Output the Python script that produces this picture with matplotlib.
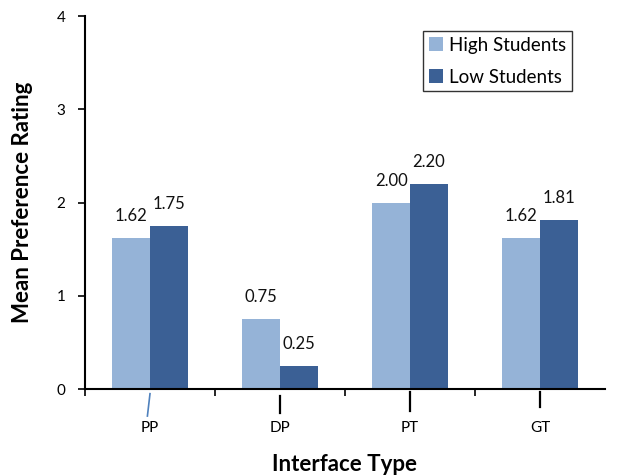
import matplotlib
matplotlib.use("Agg")
import matplotlib.pyplot as plt
import numpy as np

plt.rcParams['font.family'] = ['Lato', 'DejaVu Sans']

categories = ["PP", "DP", "PT", "GT"]
high_students = [1.62, 0.75, 2.00, 1.62]
low_students = [1.75, 0.25, 2.20, 1.81]
high_labels = ["1.62", "0.75", "2.00", "1.62"]
low_labels = ["1.75", "0.25", "2.20", "1.81"]
y_ticks = [0, 1, 2, 3, 4]

color_high = "#95B3D7"
color_low = "#3B6095"

fig = plt.figure(figsize=(6.25, 4.75), dpi=100)
ax = fig.add_axes([0.136, 0.181, 0.832, 0.785])

x = np.arange(len(categories))
w = 0.29
ax.bar(x - w / 2, high_students, width=w, color=color_high, label="High Students")
ax.bar(x + w / 2, low_students, width=w, color=color_low, label="Low Students")

for xi, v, t in zip(x - w / 2, high_students, high_labels):
    ax.annotate(t, (xi, v), xytext=(0, 22), textcoords="offset pixels",
                ha="center", va="center", fontsize=12, color="#111111")
for xi, v, t in zip(x + w / 2, low_students, low_labels):
    ax.annotate(t, (xi, v), xytext=(0, 22), textcoords="offset pixels",
                ha="center", va="center", fontsize=12, color="#111111")

ax.set_xlim(-0.5, 3.5)
ax.set_ylim(0, 4)
ax.set_yticks(y_ticks)
ax.set_xticks(x)
ax.set_xticklabels(categories)
ax.set_xticks(np.arange(-0.5, 3.0, 1.0), minor=True)
ax.tick_params(axis="x", which="major", length=0, pad=23, labelsize=11)
ax.tick_params(axis="x", which="minor", length=5, width=1.2, direction="out")
ax.tick_params(axis="y", length=5, width=1.2, direction="out", labelsize=11, pad=9)

for side in ("top", "right"):
    ax.spines[side].set_visible(False)
for side in ("left", "bottom"):
    ax.spines[side].set_linewidth(1.5)

ax.set_ylabel("Mean Preference Rating", fontsize=16, fontweight="bold", labelpad=17)
ax.set_xlabel("Interface Type", fontsize=16, fontweight="bold", labelpad=14)

# short marker strokes below the category labels
ax.plot([0.0, -0.02], [-0.05, -0.29], color="#4F81BD", lw=1.2, clip_on=False)
ax.plot([1.0, 1.0], [-0.07, -0.26], color="black", lw=1.6, clip_on=False)
ax.plot([2.0, 2.0], [-0.03, -0.24], color="black", lw=1.6, clip_on=False)
ax.plot([3.0, 3.0], [-0.03, -0.19], color="black", lw=1.6, clip_on=False)

leg = ax.legend(loc="upper right", bbox_to_anchor=(0.937, 0.96), fontsize=13.5,
                frameon=True, fancybox=False, edgecolor="black", handlelength=0.75,
                handleheight=0.75, handletextpad=0.35, labelspacing=0.8,
                borderpad=0.3, borderaxespad=0.0)
leg.get_frame().set_linewidth(1.0)

fig.savefig("out.png", dpi=100)
